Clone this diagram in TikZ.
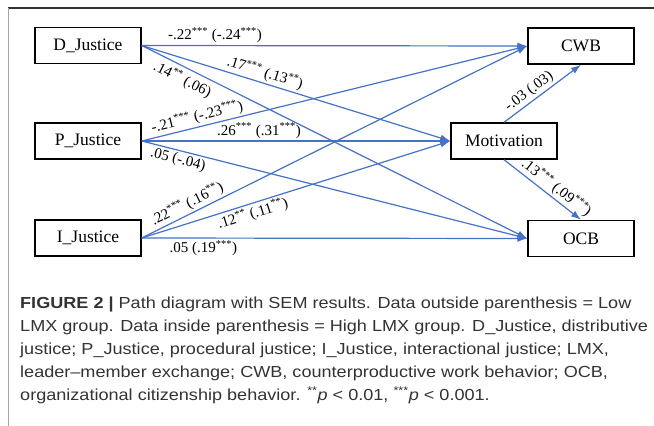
\documentclass[tikz,border=0pt]{standalone}
\usepackage{fontspec}
\setmainfont{Liberation Serif}
\newfontfamily\capfont[FakeStretch=1.13]{Liberation Sans}
\usetikzlibrary{arrows.meta}
\definecolor{pathblue}{HTML}{4472C4}
\definecolor{capgray}{HTML}{333333}
\newcommand{\sig}[1]{\textsuperscript{#1}}
\tikzset{
  var/.style={draw, line width=1.4pt, minimum width=106pt, minimum height=36pt, inner sep=0pt, font=\fontsize{17.5}{20}\selectfont},
  effect/.style={pathblue, line width=1.2pt, -{Latex[length=10pt,width=7pt]}},
  coef/.style={text=black, font=\fontsize{15}{17}\selectfont, inner sep=2pt}
}
\begin{document}
\begin{tikzpicture}[x=1pt,y=-1pt]
  \useasboundingbox (0,0) rectangle (654,426);
  \draw[line width=1.2pt, capgray] (8,8) -- (654,8);
  \draw[line width=1pt, gray!70] (8,8) -- (8,426);

  \node[var] (dj) at (88,45.5) {D\_Justice};
  \node[var] (pj) at (88,141) {P\_Justice};
  \node[var] (ij) at (88,238) {I\_Justice};
  \node[var] (cwb) at (581,46) {CWB};
  \node[var] (mot) at (504,141) {Motivation};
  \node[var] (ocb) at (581,238.5) {OCB};

  \draw[effect] (dj.east) -- node[coef, above, pos=.19] {-.22\sig{***} (-.24\sig{***})} (cwb.west);
  \draw[effect] (dj.east) -- node[coef, sloped, above, pos=.39] {.17\sig{***} (.13\sig{**})} (mot.west);
  \draw[effect] (dj.east) -- node[coef, sloped, below=2pt, pos=.12] {.14\sig{**} (.06)} (ocb.west);

  \draw[effect] (pj.east) -- node[coef, sloped, above, pos=.15] {-.21\sig{***} (-.23\sig{***})} (cwb.west);
  \draw[effect] (pj.east) -- node[coef, above, pos=.38] {.26\sig{***} (.31\sig{***})} (mot.west);
  \draw[effect] (pj.east) -- node[coef, sloped, below, pos=.1] {.05 (-.04)} (ocb.west);

  \draw[effect] (ij.east) -- node[coef, sloped, above, pos=.13] {.22\sig{***} (.16\sig{**})} (cwb.west);
  \draw[effect] (ij.east) -- node[coef, sloped, below, pos=.35] {.12\sig{**} (.11\sig{**})} (mot.west);
  \draw[effect] (ij.east) -- node[coef, below, pos=.16] {.05 (.19\sig{***})} (ocb.west);

  \draw[effect] (mot.north) -- node[coef, sloped, above, pos=.4] {-.03 (.03)} (cwb.south);
  \draw[effect] (mot.south) -- node[coef, sloped, above, pos=.6] {.13\sig{***} (.09\sig{***})} (ocb.north);

  \node[anchor=north west, align=left, inner sep=0pt, text=capgray,
        font=\capfont\fontsize{16}{23}\selectfont] (cap) at (20,297)
    {\textbf{FIGURE 2 |} Path diagram with SEM results. Data outside parenthesis = Low\\
     LMX group. Data inside parenthesis = High LMX group. D\_Justice, distributive\\
     justice; P\_Justice, procedural justice; I\_Justice, interactional justice; LMX,\\
     leader\textendash member exchange; CWB, counterproductive work behavior; OCB,\\
     organizational citizenship behavior. \sig{**}\textit{p} < 0.01, \sig{***}\textit{p} < 0.001.};
\end{tikzpicture}
\end{document}
